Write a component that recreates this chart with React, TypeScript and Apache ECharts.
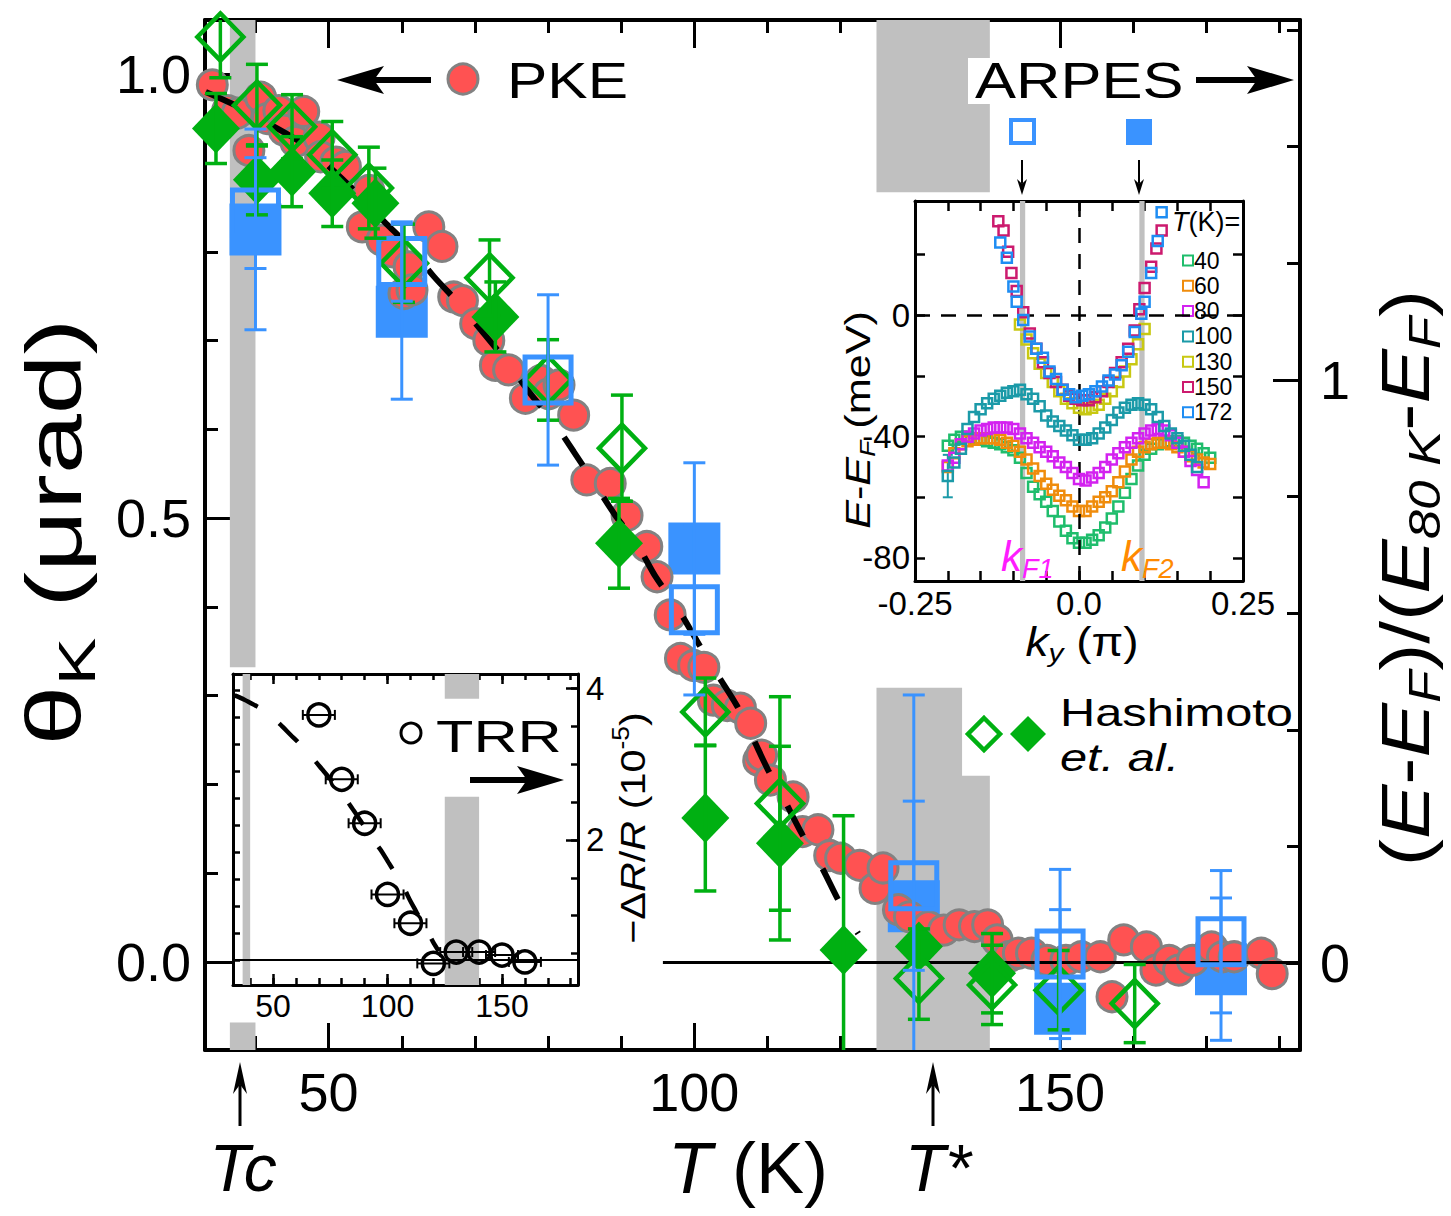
import React, { useEffect, useRef } from "react";
import * as echarts from "echarts";

const FONT = "'Liberation Sans', Arial, Helvetica, sans-serif";

// ---------------- main panel data ----------------
const pkeT = [34.1, 36.2, 37.5, 39.1, 40.7, 41.6, 43.2, 43.9, 45.5, 46.6, 48.7, 48.9, 51.0, 52.3, 54.6, 55.5, 57.3, 58.7, 60.3, 61.0, 61.4, 63.7, 65.5, 67.1, 68.3, 70.1, 71.9, 72.8, 74.6, 76.9, 79.0, 80.1, 81.5, 83.5, 85.3, 88.5, 90.8, 93.5, 94.9, 96.7, 98.1, 99.9, 101.3, 102.6, 104.5, 106.3, 107.7, 108.8, 109.2, 110.4, 113.5, 114.8, 116.9, 118.5, 120.0, 122.6, 124.7, 125.8, 127.9, 129.4, 132.0, 134.1, 136.2, 138.3, 140.1, 141.4, 143.0, 144.3, 146.1, 148.2, 150.8, 152.9, 155.5, 157.1, 158.7, 161.8, 163.1, 164.9, 166.2, 168.1, 170.7, 172.2, 173.8, 177.5, 179.0];
const pkeTheta = [0.988, 0.959, 0.956, 0.914, 0.974, 0.950, 0.959, 0.937, 0.924, 0.958, 0.929, 0.907, 0.901, 0.896, 0.828, 0.869, 0.813, 0.800, 0.753, 0.783, 0.757, 0.828, 0.806, 0.749, 0.745, 0.719, 0.700, 0.672, 0.667, 0.635, 0.655, 0.640, 0.650, 0.616, 0.543, 0.539, 0.503, 0.468, 0.434, 0.391, 0.342, 0.334, 0.332, 0.295, 0.289, 0.286, 0.269, 0.227, 0.233, 0.205, 0.186, 0.147, 0.149, 0.120, 0.117, 0.109, 0.083, 0.106, 0.059, 0.051, 0.040, 0.036, 0.042, 0.040, 0.042, 0.025, 0.006, 0.010, 0.010, 0.002, 0.002, 0.006, 0.006, -0.039, 0.025, 0.017, -0.009, 0.002, -0.009, 0.002, 0.017, 0.006, 0.006, 0.010, -0.013];

const fitT = [33.2, 37.5, 42.1, 46.4, 50.3, 54.1, 57.6, 61.0, 64.4, 68.0, 71.2, 74.4, 77.6, 80.6, 83.5, 86.2, 89.2, 92.2, 94.7, 97.6, 100.4, 102.9, 105.8, 107.9, 110.1, 112.4, 114.8, 117.4, 119.8, 122.4];
const fitTheta = [0.980, 0.964, 0.943, 0.922, 0.894, 0.864, 0.834, 0.806, 0.772, 0.740, 0.708, 0.676, 0.640, 0.610, 0.575, 0.541, 0.503, 0.470, 0.434, 0.400, 0.361, 0.327, 0.289, 0.254, 0.216, 0.181, 0.143, 0.107, 0.068, 0.032];

const arpesOpenT = [40, 60, 80, 100, 130, 150, 172];
const arpesOpenV = [1.286, 1.203, 1.0, 0.606, 0.133, 0.016, 0.037];
const arpesOpenErr = [0.095, 0.068, 0.146, 0.146, 0.145, 0.145, 0.122];
const arpesFillT = [40, 60, 100, 130, 150, 172];
const arpesFillV = [1.258, 1.117, 0.711, 0.098, -0.078, -0.010];
const arpesFillErr = [0.172, 0.15, 0.147, 0.362, 0.17, 0.122];

const hashOpenT = [35.2, 40.2, 45.0, 50.5, 55.5, 60.3, 72.0, 80.0, 90.1, 101.5, 111.7, 130.7, 140.7, 149.8, 160.2];
const hashOpenV = [1.588, 1.471, 1.434, 1.386, 1.329, 1.200, 1.175, 1.000, 0.883, 0.431, 0.274, -0.026, -0.037, -0.046, -0.069];
const hashOpenErr = [0.07, 0.07, 0.055, 0.057, 0.07, 0.067, 0.065, 0.069, 0.091, 0.058, 0.183, 0.07, 0.068, 0.068, 0.067];
const hashFillT = [34.6, 40.2, 45.0, 50.5, 56.4, 72.8, 89.7, 101.5, 111.7, 120.4, 130.7, 140.7];
const hashFillV = [1.431, 1.343, 1.357, 1.320, 1.303, 1.108, 0.720, 0.249, 0.206, 0.023, 0.029, -0.017];
const hashFillErr = [0.06, 0.06, 0.06, 0.057, 0.06, 0.06, 0.077, 0.125, 0.166, 0.23, 0.03, 0.068];

// shaded temperature ranges [T0, T1, yLow, yHigh] (left-axis units)
const bandsMain = [[36.5, 40.0, 0.332, 1.061], [36.5, 40.0, -0.099, -0.068], [124.9, 140.4, 0.867, 1.061], [124.9, 136.6, -0.099, 0.309], [136.4, 140.4, -0.099, 0.210]];

const mainMinorT = [40, 50, 60, 70, 80, 90, 100, 110, 120, 130, 140, 150, 160, 170, 180];
const mainMajorT = [50, 100, 150];
const leftMinor = [0, 0.1, 0.2, 0.3, 0.4, 0.5, 0.6, 0.7, 0.8, 0.9, 1.0];
const leftMajor = [0, 0.5, 1.0];
const rightMinor = [0, 0.2, 0.4, 0.6, 0.8, 1.0, 1.2, 1.4, 1.6];
const rightMajor = [0, 1];

// ---------------- TRR inset data ----------------
const trrT = [70, 80, 90, 100, 110, 120, 130, 140, 150, 160];
const trrV = [3.65, 2.80, 2.22, 1.28, 0.90, 0.37, 0.52, 0.52, 0.48, 0.39];
const trrTErr = [7, 7, 7, 7, 7, 7, 7, 7, 7, 7];
const trrBands = [[36.7, 40.0, -0.093, 1.059], [125.0, 140.0, 0.967, 1.059], [125.0, 140.0, -0.093, 0.604]];
const trrLeftTicks = [0, 0.1, 0.2, 0.3, 0.4, 0.5, 0.6, 0.7, 0.8, 0.9, 1.0];
const trrRightMinor = [0.5, 1, 1.5, 2, 2.5, 3, 3.5, 4];
const trrRightMajor = [2, 4];

// ---------------- ARPES inset data ----------------
const k41 = [-0.20, -0.19, -0.18, -0.17, -0.16, -0.15, -0.14, -0.13, -0.12, -0.11, -0.10, -0.09, -0.08, -0.07, -0.06, -0.05, -0.04, -0.03, -0.02, -0.01, 0.00, 0.01, 0.02, 0.03, 0.04, 0.05, 0.06, 0.07, 0.08, 0.09, 0.10, 0.11, 0.12, 0.13, 0.14, 0.15, 0.16, 0.17, 0.18, 0.19, 0.20];
const e40 = [-43, -41, -40, -40, -40.5, -41, -41.5, -42, -42.5, -43.5, -44.5, -47, -52, -56.5, -59, -61.5, -64.5, -68, -71, -73.5, -75, -75, -74, -72.5, -70, -67, -63, -58.5, -54, -49.5, -46, -44, -42.5, -42, -41.5, -41.5, -42, -43, -44, -45.5, -47];
const e60 = [-50, -45.5, -42.5, -41.5, -41, -40.5, -40.5, -40.5, -41, -42, -43, -45, -47.5, -50.5, -53, -55.5, -57.5, -59.5, -61, -63, -64.5, -64.5, -63, -61.5, -60, -58, -55, -51.5, -47.5, -45, -43.5, -42.5, -42, -42, -42.5, -43.5, -45, -46.5, -47.5, -48.5, -49];
const k80 = k41.slice(0, 40);
const e80 = [-49.5, -47, -42.5, -40, -39, -38, -37.5, -37, -37, -37, -37.5, -39, -40.5, -42, -43.5, -45, -46.5, -48.5, -50, -52, -54, -54.5, -53.5, -52, -50, -47.5, -45.5, -43.5, -42, -40.5, -39, -38, -37.5, -38, -39.5, -42, -45, -48, -51, -55];
const k100 = k41.slice(0, 39);
const e100 = [-53, -48.5, -44, -37.5, -33.5, -31, -29, -27.5, -26.5, -25.5, -25, -24.5, -26, -27.5, -30, -33, -35, -36.5, -38, -39.5, -41, -41, -40.5, -39, -37, -34.5, -32, -30.5, -29.5, -29, -29.5, -31, -33.5, -36.5, -39, -40.5, -43, -46, -50];
const k130 = [-0.09, -0.08, -0.07, -0.06, -0.05, -0.04, -0.03, -0.02, -0.01, 0, 0.01, 0.02, 0.03, 0.04, 0.05, 0.06, 0.07, 0.08, 0.09, 0.10];
const e130 = [-3, -8, -12.5, -16, -19, -22, -25, -27.5, -29, -30.5, -31, -30.5, -29.5, -27.5, -25, -22, -18.5, -14.5, -9.5, -4.5];
const k150 = [-0.123, -0.115, -0.108, -0.103, -0.095, -0.085, -0.075, -0.065, -0.055, -0.045, -0.035, -0.025, -0.015, -0.005, 0.005, 0.015, 0.025, 0.035, 0.045, 0.055, 0.065, 0.075, 0.085, 0.092, 0.100, 0.110, 0.118, 0.126];
const e150 = [31, 28, 21, 14, 8, 1, -6, -11, -15.5, -19, -22, -24.5, -26.5, -27.5, -28, -28, -27, -25, -22, -19, -15.5, -11, -5, 2, 9, 16, 22, 28];
const k172 = [-0.12, -0.11, -0.10, -0.095, -0.085, -0.075, -0.065, -0.055, -0.045, -0.035, -0.025, -0.015, -0.005, 0.005, 0.015, 0.025, 0.035, 0.045, 0.055, 0.065, 0.075, 0.085, 0.095, 0.10, 0.11, 0.12, 0.126];
const e172 = [24, 19, 9.5, 4.5, -1.5, -7, -11, -14, -18.5, -21, -24.5, -26, -27, -26.5, -26, -25, -23.5, -21.5, -19.5, -16.5, -12, -5.5, 0.5, 4.5, 14, 24.5, 34];
const tealErrK = [-0.2];
const tealErrE = [-53];
const tealErr = [7];
const kFBands = [[-0.090, -0.082], [0.092, 0.100]];
const kTicks = [-0.25, -0.2, -0.15, -0.1, -0.05, 0, 0.05, 0.1, 0.15, 0.2, 0.25];
const kLabels = [-0.25, 0, 0.25];
const eTicks = [-80, -60, -40, -20, 0, 20];
const eLabels = [-80, -40, 0];
const arpesNames = ["40", "60", "80", "100", "130", "150", "172"];
const arpesColors = ["#1fbd6c", "#ef8c0c", "#d322f0", "#1b9aa8", "#c8c812", "#cc1a6e", "#1e8df3"];

// ---------------- helpers ----------------
const zip = (a: number[], b: number[]) => a.map((v, i) => [v, b[i]]);
const zip3 = (a: number[], b: number[], c: number[]) => a.map((v, i) => [v, b[i], c[i]]);

function vErr(color: string, lw: number, cap: number) {
  return (params: any, api: any) => {
    const x = api.value(0), y = api.value(1), e = api.value(2);
    const lo = api.coord([x, y - e]);
    const hi = api.coord([x, y + e]);
    const st = { stroke: color, lineWidth: lw };
    return {
      type: "group",
      children: [
        { type: "line", shape: { x1: lo[0], y1: lo[1], x2: hi[0], y2: hi[1] }, style: st },
        { type: "line", shape: { x1: lo[0] - cap, y1: lo[1], x2: lo[0] + cap, y2: lo[1] }, style: st },
        { type: "line", shape: { x1: hi[0] - cap, y1: hi[1], x2: hi[0] + cap, y2: hi[1] }, style: st },
      ],
    };
  };
}
function hErr(color: string, lw: number, cap: number) {
  return (params: any, api: any) => {
    const x = api.value(0), y = api.value(1), e = api.value(2);
    const lo = api.coord([x - e, y]);
    const hi = api.coord([x + e, y]);
    const st = { stroke: color, lineWidth: lw };
    return {
      type: "group",
      children: [
        { type: "line", shape: { x1: lo[0], y1: lo[1], x2: hi[0], y2: hi[1] }, style: st },
        { type: "line", shape: { x1: lo[0], y1: lo[1] - cap, x2: lo[0], y2: lo[1] + cap }, style: st },
        { type: "line", shape: { x1: hi[0], y1: hi[1] - cap, x2: hi[0], y2: hi[1] + cap }, style: st },
      ],
    };
  };
}

const BLACK = "#000";
function axis(o: any) {
  const { line = true, lw = 4, ticks, tlen, tw = 3, labels, fmt, fs = 54, margin = 18, ...rest } = o;
  return {
    type: "value",
    ...rest,
    axisLine: { show: line, onZero: false, lineStyle: { color: BLACK, width: lw } },
    axisTick: ticks ? { show: true, inside: true, length: tlen, customValues: ticks, lineStyle: { color: BLACK, width: tw } } : { show: false },
    axisLabel: labels
      ? { show: true, customValues: labels, formatter: fmt, fontSize: fs, fontFamily: FONT, color: BLACK, margin }
      : { show: false },
    splitLine: { show: false },
  };
}

function arrowH(x1: number, x2: number, y: number, dir: number) {
  const tip = dir < 0 ? x1 : x2;
  const back = tip - dir * 47;
  const notch = tip - dir * 37;
  return [
    { type: "line", z: 60, shape: { x1: dir < 0 ? notch : x1, y1: y, x2: dir < 0 ? x2 : notch, y2: y }, style: { stroke: BLACK, lineWidth: 6 } },
    { type: "polygon", z: 60, shape: { points: [[tip, y], [back, y - 14], [notch, y], [back, y + 14]] }, style: { fill: BLACK } },
  ];
}
function arrowV(x: number, y1: number, y2: number, len: number, half: number, lw: number, up: boolean) {
  const tip = up ? y1 : y2;
  const d = up ? 1 : -1;
  return [
    { type: "line", z: 60, shape: { x1: x, y1: up ? tip + len * 0.7 : y1, x2: x, y2: up ? y2 : tip - len * 0.7 }, style: { stroke: BLACK, lineWidth: lw } },
    { type: "polygon", z: 60, shape: { points: [[x, tip], [x - half, tip + d * len], [x, tip + d * len * 0.7], [x + half, tip + d * len]] }, style: { fill: BLACK } },
  ];
}
function text(x: number, y: number, t: string, fs: number, o: any = {}) {
  return {
    type: "text",
    z: 70,
    x,
    y,
    rotation: o.rot || 0,
    scaleX: o.sx || 1,
    style: {
      text: t,
      fontSize: fs,
      fontFamily: FONT,
      fontStyle: o.italic ? "italic" : "normal",
      fill: o.color || BLACK,
      align: o.align || "left",
      verticalAlign: "middle",
      rich: o.rich,
    },
  };
}

function buildOption() {
  const MX0 = 33.1, MX1 = 182.8;
  const LY0 = -0.099, LY1 = 1.061;
  const RY0 = -0.1486, RY1 = 1.617;
  const TX0 = 32.5, TX1 = 183.2;
  const TL0 = -0.093, TL1 = 1.059;
  const TR0 = 0.085, TR1 = 4.19;
  const KX0 = -0.25, KX1 = 0.25;
  const EY0 = -87.6, EY1 = 37.7;

  const xAxis = [
    axis({ gridIndex: 0, position: "bottom", min: MX0, max: MX1, ticks: mainMinorT, tlen: 14 }),
    axis({ gridIndex: 0, position: "bottom", min: MX0, max: MX1, line: false, ticks: mainMajorT, tlen: 27, labels: mainMajorT, fmt: (v: number) => String(v), margin: 15 }),
    axis({ gridIndex: 0, position: "top", min: MX0, max: MX1, ticks: mainMinorT, tlen: 13 }),
    axis({ gridIndex: 0, position: "top", min: MX0, max: MX1, line: false, ticks: mainMajorT, tlen: 28 }),
    axis({ gridIndex: 1, position: "bottom", min: KX0, max: KX1, lw: 3, ticks: kTicks, tlen: 10, tw: 2.5, labels: kLabels, fmt: (v: number) => (v === 0 ? "0.0" : String(v)), fs: 33, margin: 6 }),
    axis({ gridIndex: 1, position: "top", min: KX0, max: KX1, lw: 3, ticks: kTicks, tlen: 10, tw: 2.5 }),
    axis({ gridIndex: 2, position: "bottom", min: TX0, max: TX1, lw: 3, ticks: mainMinorT, tlen: 7, tw: 2.5 }),
    axis({ gridIndex: 2, position: "bottom", min: TX0, max: TX1, line: false, ticks: mainMajorT, tlen: 11, tw: 2.5, labels: mainMajorT, fmt: (v: number) => String(v), fs: 32, margin: 5 }),
    axis({ gridIndex: 2, position: "top", min: TX0, max: TX1, lw: 3, ticks: mainMinorT, tlen: 6, tw: 2.5 }),
    axis({ gridIndex: 2, position: "top", min: TX0, max: TX1, line: false, ticks: mainMajorT, tlen: 10, tw: 2.5 }),
  ];
  const yAxis = [
    axis({ gridIndex: 0, position: "left", min: LY0, max: LY1, ticks: leftMinor, tlen: 13 }),
    axis({ gridIndex: 0, position: "left", min: LY0, max: LY1, line: false, ticks: leftMajor, tlen: 27, labels: leftMajor, fmt: (v: number) => v.toFixed(1), margin: 14 }),
    axis({ gridIndex: 0, position: "right", min: RY0, max: RY1, ticks: rightMinor, tlen: 13 }),
    axis({ gridIndex: 0, position: "right", min: RY0, max: RY1, line: false, ticks: rightMajor, tlen: 27, labels: rightMajor, fmt: (v: number) => String(v), margin: 20 }),
    axis({ gridIndex: 1, position: "left", min: EY0, max: EY1, lw: 3, ticks: eTicks, tlen: 10, tw: 2.5, labels: eLabels, fmt: (v: number) => String(v), fs: 33, margin: 5 }),
    axis({ gridIndex: 1, position: "right", min: EY0, max: EY1, lw: 3, ticks: eTicks, tlen: 10, tw: 2.5 }),
    axis({ gridIndex: 2, position: "left", min: TL0, max: TL1, lw: 3, ticks: trrLeftTicks, tlen: 7, tw: 2.5 }),
    axis({ gridIndex: 2, position: "right", min: TR0, max: TR1, lw: 3, ticks: trrRightMinor, tlen: 7, tw: 2.5 }),
    axis({ gridIndex: 2, position: "right", min: TR0, max: TR1, line: false, ticks: trrRightMajor, tlen: 12, tw: 2.5, labels: trrRightMajor, fmt: (v: number) => String(v), fs: 33, margin: 8 }),
  ];

  const GREEN = "#00b012";
  const BLUE = "#3a93ff";
  const RED = "#ff5252";

  const series: any[] = [
    {
      name: "bandsMain", type: "scatter", xAxisIndex: 0, yAxisIndex: 0, data: [], z: 0, silent: true,
      markArea: { silent: true, itemStyle: { color: "#c0c0c0", borderWidth: 0 }, label: { show: false },
        data: bandsMain.map((b) => [{ coord: [b[0], b[3]] }, { coord: [b[1], b[2]] }]) },
      markLine: { silent: true, symbol: ["none", "none"], label: { show: false }, lineStyle: { color: BLACK, width: 3, type: "solid" },
        data: [[{ coord: [95.7, 0] }, { coord: [MX1, 0] }]] },
    },
    { name: "ARPES filled", type: "scatter", xAxisIndex: 0, yAxisIndex: 2, z: 2, symbol: "rect", symbolSize: 52,
      itemStyle: { color: BLUE, opacity: 1 }, data: zip(arpesFillT, arpesFillV) },
    { name: "PKE", type: "scatter", xAxisIndex: 0, yAxisIndex: 0, z: 3, symbol: "circle", symbolSize: 30,
      itemStyle: { color: RED, borderColor: "#828282", borderWidth: 3, opacity: 1 }, data: zip(pkeT, pkeTheta) },
    { name: "fit", type: "line", xAxisIndex: 0, yAxisIndex: 0, z: 4, showSymbol: false, symbol: "none", smooth: 0.3,
      lineStyle: { color: BLACK, width: 6, type: [34, 38], cap: "butt" }, data: zip(fitT, fitTheta) },
    { name: "Hashimoto filled", type: "scatter", xAxisIndex: 0, yAxisIndex: 2, z: 5, symbol: "diamond", symbolSize: [48, 50],
      itemStyle: { color: GREEN, opacity: 1 }, data: zip(hashFillT, hashFillV) },
    { name: "Hashimoto open", type: "scatter", xAxisIndex: 0, yAxisIndex: 2, z: 6, symbol: "diamond", symbolSize: [46, 47],
      itemStyle: { color: "rgba(255,255,255,0)", borderColor: GREEN, borderWidth: 4.5, opacity: 1 }, data: zip(hashOpenT, hashOpenV) },
    { name: "ARPES open", type: "scatter", xAxisIndex: 0, yAxisIndex: 2, z: 7, symbol: "rect", symbolSize: 46,
      itemStyle: { color: "rgba(255,255,255,0)", borderColor: BLUE, borderWidth: 5, opacity: 1 }, data: zip(arpesOpenT, arpesOpenV) },
    { name: "errGreen", type: "custom", xAxisIndex: 0, yAxisIndex: 2, z: 8, clip: true, silent: true,
      renderItem: vErr(GREEN, 3.5, 11), encode: { x: 0, y: 1 },
      data: [...zip3(hashOpenT, hashOpenV, hashOpenErr), ...zip3(hashFillT, hashFillV, hashFillErr)] },
    { name: "errBlue", type: "custom", xAxisIndex: 0, yAxisIndex: 2, z: 8, clip: true, silent: true,
      renderItem: vErr(BLUE, 3, 11), encode: { x: 0, y: 1 },
      data: [...zip3(arpesOpenT, arpesOpenV, arpesOpenErr), ...zip3(arpesFillT, arpesFillV, arpesFillErr)] },

    // ARPES inset
    {
      name: "arpesDecor", type: "scatter", xAxisIndex: 4, yAxisIndex: 4, data: [], z: 1, silent: true,
      markArea: { silent: true, itemStyle: { color: "#c0c0c0", borderWidth: 0 }, label: { show: false },
        data: kFBands.map((b) => [{ coord: [b[0], EY1] }, { coord: [b[1], EY0] }]) },
      markLine: { silent: true, symbol: ["none", "none"], label: { show: false }, lineStyle: { color: BLACK, width: 2.5, type: [15, 11] },
        data: [{ xAxis: 0 }, { yAxis: 0 }] },
    },
    ...[
      [k41, e40], [k41, e60], [k80, e80], [k100, e100], [k130, e130], [k150, e150], [k172, e172],
    ].map((d, i) => ({
      name: arpesNames[i], type: "scatter", xAxisIndex: 4, yAxisIndex: 4, z: 3 + i, symbol: "rect", symbolSize: 10,
      itemStyle: { color: "rgba(255,255,255,0)", borderColor: arpesColors[i], borderWidth: 2.5, opacity: 1 },
      data: zip(d[0] as number[], d[1] as number[]),
    })),
    { name: "tealErr", type: "custom", xAxisIndex: 4, yAxisIndex: 4, z: 3, silent: true,
      renderItem: vErr(arpesColors[3], 2, 5), encode: { x: 0, y: 1 }, data: zip3(tealErrK, tealErrE, tealErr) },

    // TRR inset
    {
      name: "trrDecor", type: "line", xAxisIndex: 6, yAxisIndex: 6, z: 1, showSymbol: false, symbol: "none", smooth: 0.3,
      lineStyle: { color: BLACK, width: 4.5, type: [26, 27], cap: "butt" }, data: zip(fitT, fitTheta),
      markArea: { silent: true, itemStyle: { color: "#c0c0c0", borderWidth: 0 }, label: { show: false },
        data: trrBands.map((b) => [{ coord: [b[0], b[3]] }, { coord: [b[1], b[2]] }]) },
      markLine: { silent: true, symbol: ["none", "none"], label: { show: false }, lineStyle: { color: BLACK, width: 2, type: "solid" },
        data: [{ yAxis: 0 }] },
    },
    { name: "TRR", type: "scatter", xAxisIndex: 6, yAxisIndex: 7, z: 4, symbol: "circle", symbolSize: 22,
      itemStyle: { color: "rgba(255,255,255,0)", borderColor: BLACK, borderWidth: 3.5, opacity: 1 }, data: zip(trrT, trrV) },
    { name: "trrErr", type: "custom", xAxisIndex: 6, yAxisIndex: 7, z: 5, silent: true,
      renderItem: hErr(BLACK, 2, 5), encode: { x: 0, y: 1 }, data: zip3(trrT, trrV, trrTErr) },
  ];

  const rSub = (fs: number) => ({ fontSize: fs, fontFamily: FONT, verticalAlign: "bottom", lineHeight: fs });
  const graphic: any[] = [
    // PKE legend
    ...arrowH(337, 431, 80, -1),
    { type: "circle", z: 60, shape: { cx: 463, cy: 79, r: 15 }, style: { fill: RED, stroke: "#828282", lineWidth: 3 } },
    text(507, 81, "PKE", 50, { sx: 1.21 }),
    // ARPES legend
    { type: "rect", z: 55, shape: { x: 968, y: 58, width: 224, height: 46 }, style: { fill: "#fff" } },
    text(975, 81, "ARPES", 50, { sx: 1.23 }),
    ...arrowH(1196, 1294, 80, 1),
    { type: "rect", z: 60, shape: { x: 1011, y: 120, width: 23, height: 23 }, style: { fill: "none", stroke: BLUE, lineWidth: 4 } },
    { type: "rect", z: 60, shape: { x: 1126, y: 119, width: 26, height: 26 }, style: { fill: BLUE } },
    ...arrowV(1022, 160, 195, 16, 5, 2, false),
    ...arrowV(1139, 160, 195, 16, 5, 2, false),
    // Hashimoto legend
    { type: "polygon", z: 60, shape: { points: [[984, 718], [1000, 734], [984, 750], [968, 734]] }, style: { fill: "none", stroke: GREEN, lineWidth: 4.5 } },
    { type: "polygon", z: 60, shape: { points: [[1028, 716], [1046, 734], [1028, 752], [1010, 734]] }, style: { fill: GREEN } },
    text(1060, 712, "Hashimoto", 39, { sx: 1.25 }),
    text(1060, 757, "et. al.", 39, { sx: 1.25, italic: true }),
    // TRR legend
    { type: "circle", z: 60, shape: { cx: 411, cy: 733, r: 10 }, style: { fill: "none", stroke: BLACK, lineWidth: 3 } },
    text(436, 736, "TRR", 45, { sx: 1.36 }),
    ...arrowH(470, 564, 780, 1),
    // Tc, T*
    ...arrowV(240, 1062, 1126, 32, 7, 3, true),
    ...arrowV(933, 1062, 1126, 32, 7, 3, true),
    text(243, 1168, "Tc", 66, { italic: true, align: "center" }),
    text(938, 1168, "T*", 66, { italic: true, align: "center" }),
    // main axis titles
    text(748, 1168, "{i|T}{n| (K)}", 72, { align: "center",
      rich: { i: { fontSize: 72, fontStyle: "italic", fontFamily: FONT }, n: { fontSize: 72, fontFamily: FONT } } }),
    text(54, 532, "{g|θ}{s|K}{g| (μrad)}", 78, { rot: Math.PI / 2, align: "center", sx: 1.38,
      rich: { g: { fontSize: 78, lineHeight: 98, fontFamily: FONT }, s: rSub(52) } }),
    text(1405, 578, "{n|(}{i|E}{n|-}{i|E}{s|F}{n|)/(}{i|E}{s|80 K}{n|-}{i|E}{s|F}{n|)}", 68, { rot: Math.PI / 2, align: "center", sx: 1.2,
      rich: { n: { fontSize: 68, lineHeight: 84, fontFamily: FONT }, i: { fontSize: 68, lineHeight: 84, fontStyle: "italic", fontFamily: FONT },
        s: { ...rSub(44), fontStyle: "italic" } } }),
    // ARPES inset titles
    text(857, 420, "{i|E}{n|-}{i|E}{s|F}{n| (meV)}", 36, { rot: Math.PI / 2, align: "center", sx: 1.2,
      rich: { n: { fontSize: 36, lineHeight: 42, fontFamily: FONT }, i: { fontSize: 36, lineHeight: 42, fontStyle: "italic", fontFamily: FONT },
        s: { ...rSub(22), fontStyle: "italic" } } }),
    text(1082, 642, "{i|k}{s|y}{n| (π)}", 40, { align: "center", sx: 1.15,
      rich: { n: { fontSize: 40, lineHeight: 48, fontFamily: FONT }, i: { fontSize: 40, lineHeight: 48, fontStyle: "italic", fontFamily: FONT },
        s: { ...rSub(26), fontStyle: "italic" } } }),
    text(1172, 222, "{i|T}{n|(K)=}", 27, {
      rich: { n: { fontSize: 27, fontFamily: FONT }, i: { fontSize: 27, fontStyle: "italic", fontFamily: FONT } } }),
    text(1001, 556, "{k|k}{s|F1}", 42, { color: "#ff1cff",
      rich: { k: { fontSize: 42, lineHeight: 52, fontStyle: "italic", fontFamily: FONT }, s: { ...rSub(27), fontStyle: "italic" } } }),
    text(1121, 556, "{k|k}{s|F2}", 42, { color: "#ff8a00",
      rich: { k: { fontSize: 42, lineHeight: 52, fontStyle: "italic", fontFamily: FONT }, s: { ...rSub(27), fontStyle: "italic" } } }),
    // TRR inset right title
    text(632, 828, "{n|−Δ}{i|R}{n|/}{i|R}{n| (10}{p|-5}{n|)}", 36, { rot: Math.PI / 2, align: "center", sx: 1.15,
      rich: { n: { fontSize: 36, lineHeight: 44, fontFamily: FONT }, i: { fontSize: 36, lineHeight: 44, fontStyle: "italic", fontFamily: FONT },
        p: { fontSize: 23, lineHeight: 23, verticalAlign: "top", fontFamily: FONT } } }),
  ];

  return {
    animation: false,
    backgroundColor: "#fff",
    grid: [
      { left: 205, top: 20, width: 1095, height: 1030, containLabel: false },
      { left: 915, top: 201, width: 328, height: 380, containLabel: false },
      { left: 233, top: 674, width: 345, height: 311, containLabel: false },
    ],
    xAxis,
    yAxis,
    legend: {
      show: true, orient: "vertical", left: 1177, top: 244, itemWidth: 10, itemHeight: 10, itemGap: 2.3, icon: "rect",
      selectedMode: false, data: arpesNames,
      textStyle: { fontSize: 23, fontFamily: FONT, color: BLACK, padding: [0, 0, 0, -4] },
    },
    series,
    graphic: { elements: graphic },
  };
}

export default function App() {
  const ref = useRef<HTMLDivElement>(null);
  useEffect(() => {
    const chart = echarts.init(ref.current as HTMLDivElement, null, { renderer: "svg" });
    chart.setOption(buildOption() as any);
    return () => chart.dispose();
  }, []);
  return (
    <div
      ref={ref}
      style={{ position: "absolute", left: 0, top: 0, width: 1451, height: 1216, background: "#fff" }}
    />
  );
}
